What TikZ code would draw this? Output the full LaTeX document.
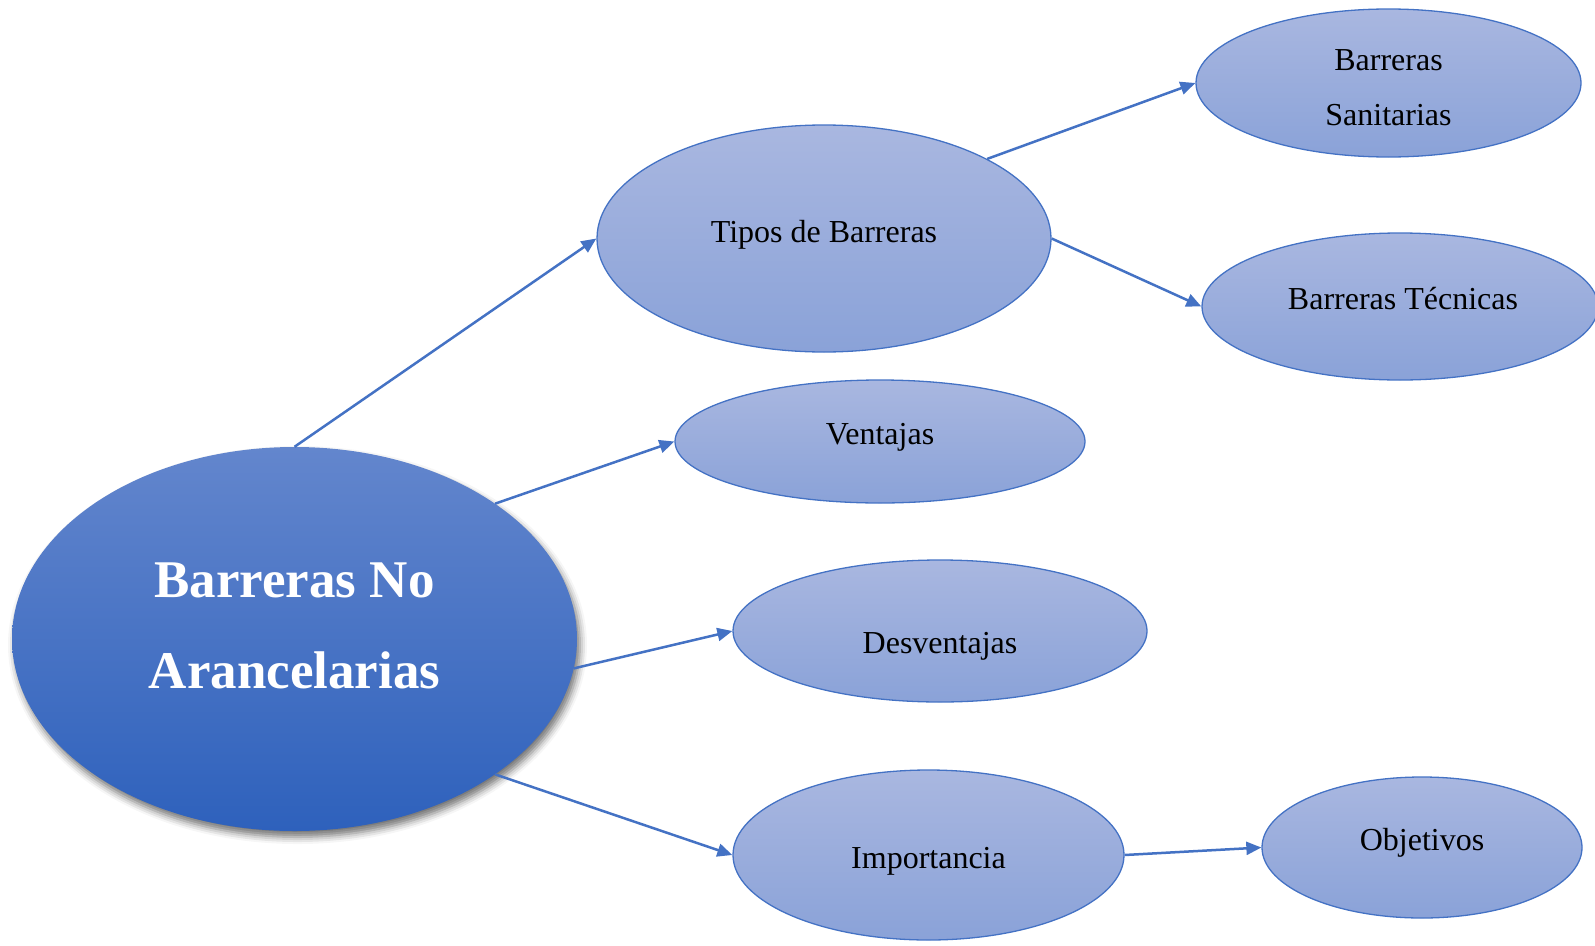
\documentclass[tikz,border=0pt]{standalone}
\usepackage{fontspec}
\setmainfont{Liberation Serif}
\usetikzlibrary{shapes.geometric,arrows.meta,shadows.blur}
\definecolor{edgeblue}{HTML}{4472C4}
\definecolor{softtop}{HTML}{A9B7E0}
\definecolor{softbot}{HTML}{8AA2D8}
\definecolor{deeptop}{HTML}{6386CD}
\definecolor{deepbot}{HTML}{2E61BC}
\begin{document}
\begin{tikzpicture}[x=1pt,y=-1pt,
  bubble/.style={ellipse, draw=edgeblue, line width=1.3pt,
    top color=softtop, bottom color=softbot, inner sep=0pt},
  core/.style={ellipse, draw=none, top color=deeptop, bottom color=deepbot,
    inner sep=0pt,
    blur shadow={shadow xshift=3pt, shadow yshift=-6pt,
      shadow blur radius=7pt, shadow opacity=55}},
  caption/.style={font=\fontsize{32}{55}\selectfont, align=center, inner sep=0pt},
  maincaption/.style={font=\bfseries\fontsize{53}{91}\selectfont, text=white,
    align=center, inner sep=0pt},
  link/.style={draw=edgeblue, line width=2.5pt,
    -{Triangle[length=15pt,width=13pt]}}]
\useasboundingbox (0,0) rectangle (1595,945);

% central concept
\node[core, minimum width=565pt, minimum height=384pt] (core) at (294.5,639) {};
\node[maincaption] (coreT) at (294.5,625.5) {Barreras No\\Arancelarias};

% first level
\node[bubble, minimum width=454pt, minimum height=227pt] (tipos) at (824,238.5) {};
\node[caption] (tiposT) at (824,235) {Tipos de Barreras};

\node[bubble, minimum width=410pt, minimum height=123pt] (ventajas) at (880,441.5) {};
\node[caption] (ventajasT) at (880,437) {Ventajas};

\node[bubble, minimum width=414pt, minimum height=142pt] (desv) at (940,631) {};
\node[caption] (desvT) at (940,646) {Desventajas};

\node[bubble, minimum width=391pt, minimum height=170pt] (imp) at (928.5,855) {};
\node[caption] (impT) at (928.5,861.5) {Importancia};

% second level
\node[bubble, minimum width=385pt, minimum height=148pt] (sanit) at (1388.5,83) {};
\node[caption] (sanitT) at (1388.5,87.5) {Barreras\\Sanitarias};

\node[bubble, minimum width=396pt, minimum height=147pt] (tecn) at (1400,306.5) {};
\node[caption] (tecnT) at (1403,299) {Barreras Técnicas};

\node[bubble, minimum width=320pt, minimum height=141pt] (obj) at (1422,847.5) {};
\node[caption] (objT) at (1422,843) {Objetivos};

% connectors
\draw[link] (core.north) -- (tipos.west);
\draw[link] (core.34.2) -- (ventajas.west);
\draw[link] (core.-6.3) -- (desv.west);
\draw[link] (core.-34.1) -- (imp.west);
\draw[link] (tipos.26.6) -- (sanit.west);
\draw[link] (tipos.east) -- (tecn.west);
\draw[link] (imp.east) -- (obj.west);
\end{tikzpicture}
\end{document}
